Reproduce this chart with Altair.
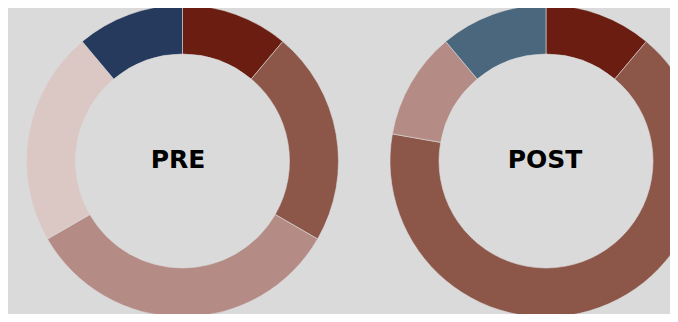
import altair as alt
import pandas as pd

# PRE donut
pre_segments = ["A", "B", "C", "D", "E"]
pre_values = [1, 2, 3, 2, 1]
pre_colors = ["#6a1d10", "#8c5649", "#b58c85", "#dbc7c3", "#263a5e"]

# POST donut
post_segments = ["A", "B", "C", "F"]
post_values = [1, 6, 1, 1]
post_colors = ["#6a1d10", "#8c5649", "#b58c85", "#4a677d"]

labels = ["PRE", "POST"]

pre_df = pd.DataFrame({"seg": pre_segments, "value": pre_values,
                       "order": list(range(len(pre_segments))), "color": pre_colors})
post_df = pd.DataFrame({"seg": post_segments, "value": post_values,
                        "order": list(range(len(post_segments))), "color": post_colors})

BG = "#dadada"


def donut(df, cx, cy):
    return alt.Chart(df).mark_arc(radius=156, radius2=107, stroke=BG, strokeWidth=0.6).encode(
        theta=alt.Theta("value:Q", stack=True),
        order=alt.Order("order:Q"),
        color=alt.Color("color:N", scale=None),
        x=alt.value(cx),
        y=alt.value(cy),
    )


def label(text, cx, cy):
    return alt.Chart(pd.DataFrame({"t": [text]})).mark_text(
        font="DejaVu Sans", fontWeight="bold", fontSize=25, color="#000000",
        align="center", baseline="alphabetic",
    ).encode(text="t:N", x=alt.value(cx), y=alt.value(cy))


chart = alt.layer(
    donut(pre_df, 174.5, 153),
    donut(post_df, 538, 153),
    label(labels[0], 170, 160),
    label(labels[1], 537, 160),
).properties(
    width=662, height=306,
    autosize=alt.AutoSizeParams(type="none"),
    padding=0,
    background=BG,
).configure_view(stroke=None)

chart.save("out.html", embed_options={"renderer": "svg", "actions": False})
